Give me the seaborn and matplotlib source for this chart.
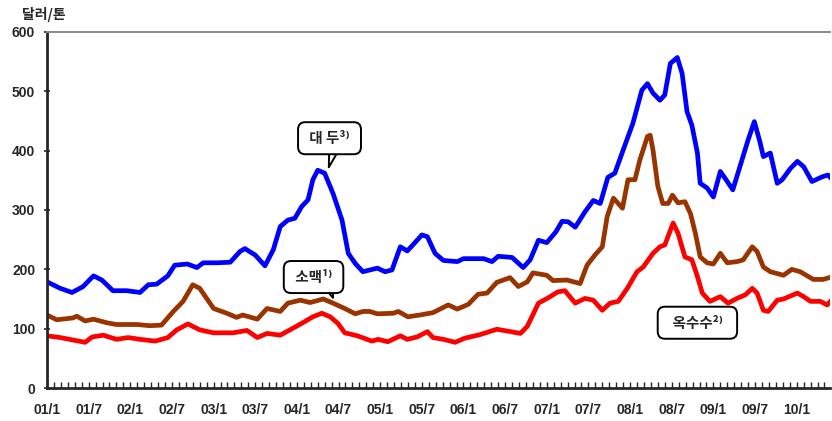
import matplotlib
matplotlib.use("Agg")
import matplotlib.pyplot as plt
import numpy as np
import pandas as pd
import seaborn as sns

# months since 2001/1 and price (dollars per ton)
soy_month = [0, 1.9, 3.6, 5.2, 6.7, 7.9, 9.5, 11.5, 13.4, 14.6, 15.8, 17.4, 18.4, 20.2,
             21.6, 22.5, 24.5, 26.4, 27.8, 28.5, 30, 31.4, 32.6, 33.6, 34.7, 35.7, 36.7,
             37.6, 38.3, 39, 40, 41.2, 42.5, 43.4, 44.4, 45.5, 47.6, 48.7, 49.7, 50.9,
             51.9, 52.7, 54, 54.8, 55.9, 57.1, 59.1, 60, 62.9, 64.1, 65, 67, 68.6, 69.6,
             70.8, 72, 73.3, 74.2, 75.1, 76.1, 77.5, 78.7, 79.7, 80.8, 81.8, 83, 84.4,
             85.7, 86.5, 87.3, 88.3, 89, 89.8, 90.8, 91.5, 92.2, 92.9, 93.7, 94.1, 95.1,
             96, 97, 98, 98.8, 99.9, 101, 101.9, 102.7, 103.2, 104.2, 105.2, 105.9, 107.1,
             108.1, 109, 110.2, 111.7, 112.5, 113]
soy_price = [179, 168, 161, 171, 189, 182, 164, 164, 161, 174, 175, 189, 207, 209,
             203, 211, 211, 212, 230, 235, 224, 206, 233, 272, 283, 286, 306,
             317, 351, 367, 362, 328, 283, 227, 210, 196, 202, 196, 199, 238,
             231, 241, 258, 255, 227, 215, 213, 218, 218, 213, 222, 220, 203, 216,
             249, 245, 263, 281, 280, 271, 297, 316, 311, 355, 362, 401, 446,
             502, 513, 497, 485, 494, 547, 557, 530, 466, 443, 396, 345, 337,
             322, 365, 348, 334, 376, 418, 449, 415, 390, 396, 345, 351, 370,
             382, 373, 348, 356, 359, 353]

wheat_month = [0, 1.4, 3.7, 4.3, 5.5, 6.7, 8.6, 10, 13, 14.8, 16.5, 18.2, 19.6, 21, 22,
               24, 25.9, 27.3, 28.2, 30.3, 31.7, 33.6, 34.7, 36.5, 37.9, 39.8, 41.2,
               42.9, 44.4, 45.5, 46.5, 47.6, 49.9, 50.6, 52, 53.7, 55.6, 57.8, 59.1,
               60.7, 62.1, 63.4, 64.8, 66.7, 67.9, 69.2, 70, 72, 72.9, 74.9, 76.8, 77.8,
               79, 80, 80.7, 81.6, 82.9, 83.7, 84.7, 85.4, 86.5, 86.9, 87.3, 88, 88.7,
               89.5, 90.1, 90.9, 91.9, 92.7, 93.4, 94.1, 95.1, 96, 97, 98, 99.4, 100.3,
               101.6, 102.3, 103.2, 104.2, 106.1, 107.3, 108.5, 110.4, 111.8, 113]
wheat_price = [123, 115, 118, 121, 113, 116, 110, 107, 107, 105, 106, 129, 146, 174, 168,
               134, 126, 119, 123, 116, 134, 129, 143, 148, 144, 150, 143,
               134, 125, 129, 129, 125, 126, 129, 120, 123, 127, 140, 133,
               141, 158, 160, 178, 186, 171, 179, 194, 190, 181, 182, 176, 207,
               225, 238, 289, 320, 303, 351, 351, 384, 424, 426, 401, 340, 311,
               311, 325, 312, 314, 294, 261, 221, 211, 209, 227, 211, 213, 216,
               238, 230, 204, 196, 190, 200, 196, 183, 183, 187]

corn_month = [0, 1.9, 3.7, 5.5, 6.5, 8.1, 10, 11.7, 13.4, 15.6, 17.4, 18.7, 20.3, 22, 24,
              26.8, 28.8, 30.3, 31.7, 33.6, 35, 36.7, 38.3, 39.6, 40.8, 41.9, 42.9, 44.7,
              46.8, 47.7, 49.1, 50.9, 51.9, 53.3, 54.8, 55.6, 57.1, 58.8, 60.2, 62.4,
              64.8, 66.3, 68.2, 69.2, 70.8, 72.2, 73.6, 74.6, 76.1, 77.5, 78.7, 80, 81.1,
              82.3, 83.6, 85, 85.9, 87.3, 88.3, 89, 90.2, 90.9, 91.9, 92.9, 93.7, 94.4,
              95.5, 97, 98.1, 99.4, 100.6, 101.6, 102.3, 103.2, 103.9, 105.2, 106.1,
              108.1, 109, 110, 111.4, 112.4, 113]
corn_price = [88, 85, 81, 77, 86, 89, 82, 85, 82, 79, 85, 98, 108, 98, 93,
              93, 97, 85, 92, 89, 98, 109, 120, 126, 120, 109, 93, 88,
              79, 82, 78, 88, 82, 86, 95, 85, 82, 77, 84, 90,
              99, 96, 92, 104, 143, 152, 162, 164, 143, 151, 148, 131, 143,
              146, 168, 196, 204, 227, 238, 241, 278, 261, 221, 216, 188, 160,
              146, 154, 143, 151, 157, 168, 160, 131, 129, 148, 150,
              160, 154, 146, 146, 140, 148]

tick_months = list(range(0, 109, 6))
tick_labels = ["01/1", "01/7", "02/1", "02/7", "03/1", "03/7", "04/1", "04/7", "05/1",
               "05/7", "06/1", "06/7", "07/1", "07/7", "08/1", "08/7", "09/1", "09/7", "10/1"]

sns.set_style("ticks")
plt.rcParams["font.family"] = ["Liberation Sans", "DejaVu Sans"]

fig = plt.figure(figsize=(8.32, 4.21), dpi=100)
ax = fig.add_axes([47 / 832, 33 / 421, 783 / 832, 356 / 421])

line_kw = dict(linewidth=3.4, solid_joinstyle="round", solid_capstyle="round")
sns.lineplot(x=corn_month, y=corn_price, ax=ax, color="#ff0000", **line_kw)
sns.lineplot(x=wheat_month, y=wheat_price, ax=ax, color="#993300", **line_kw)
sns.lineplot(x=soy_month, y=soy_price, ax=ax, color="#0000ff", **line_kw)

ax.set_xlim(0, 112.8)
ax.set_ylim(0, 600)
ax.set_yticks(range(0, 601, 100))
ax.set_xticks(tick_months)
ax.set_xticklabels(tick_labels)
ax.set_xticks(range(0, 113), minor=True)
ax.set_xlabel("")
ax.set_ylabel("")

for lab in ax.get_xticklabels() + ax.get_yticklabels():
    lab.set_fontweight("bold")
    lab.set_fontsize(10)

ax.tick_params(axis="x", which="both", direction="in", length=4, width=1, pad=11)
ax.tick_params(axis="y", direction="inout", length=5, width=1.2, pad=6)

ax.spines["left"].set_linewidth(2)
ax.spines["bottom"].set_linewidth(2)
ax.spines["top"].set_visible(True)
ax.spines["top"].set_color("#8a8a8a")
ax.spines["top"].set_linewidth(1.4)
ax.spines["right"].set_visible(False)

kr = ["Noto Sans CJK KR", "DejaVu Sans"]
fig.text(22 / 832, 1 - 14 / 421, "달러/톤", family=kr, fontsize=10, fontweight="bold",
         va="center", ha="left")

box = dict(boxstyle="round,pad=0.55,rounding_size=0.5", fc="white", ec="black", lw=1.4)
tail = dict(arrowstyle="wedge,tail_width=0.95,shrink_factor=0.5", fc="white", ec="black",
            lw=1.4, shrinkA=0, shrinkB=0, patchA=None)

ax.annotate(" 대 두³⁾ ", xy=(40.6, 372), xytext=(40.7, 421), family=kr, fontsize=10.5,
            fontweight="bold", ha="center", va="center", bbox=box,
            arrowprops=dict(tail, relpos=(0.64, 0.3)))
ax.annotate(" 소맥¹⁾ ", xy=(41.2, 152), xytext=(38.4, 187), family=kr, fontsize=10.5,
            fontweight="bold", ha="center", va="center", bbox=box,
            arrowprops=dict(tail, relpos=(0.8, 0.3)))
ax.text(93.7, 110, "  옥수수²⁾  ", family=kr, fontsize=10.5, fontweight="bold",
        ha="center", va="center", bbox=box)

fig.savefig("out.png", dpi=100)
